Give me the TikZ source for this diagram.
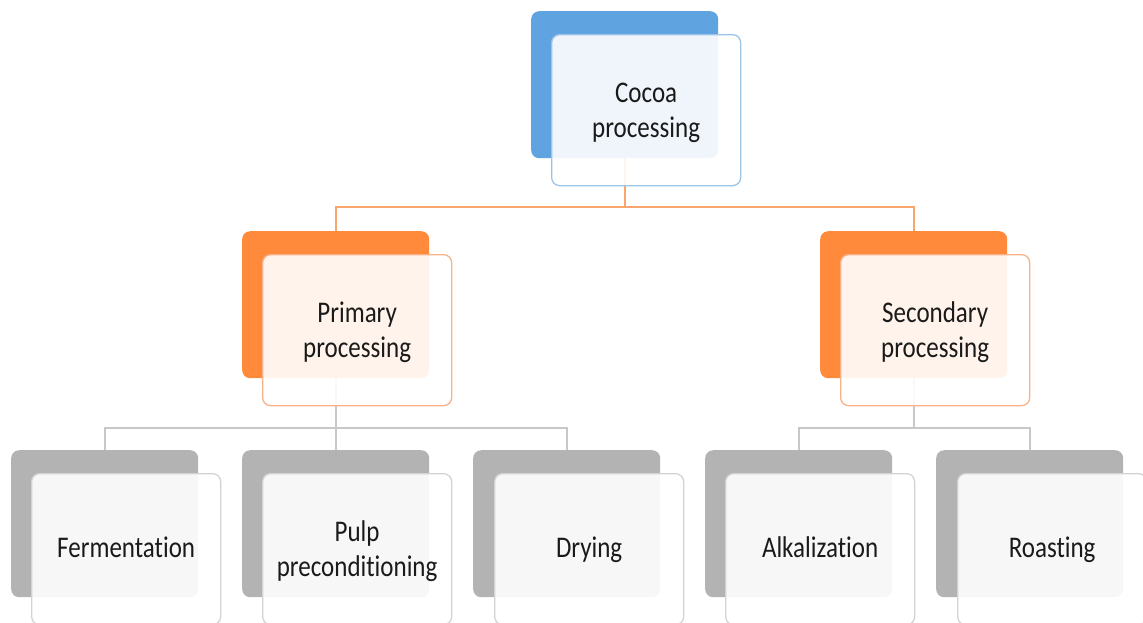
\documentclass[tikz,border=0pt]{standalone}
\usepackage{fontspec}
\setmainfont{Carlito}[Ligatures={NoCommon}]
\usetikzlibrary{backgrounds}
\definecolor{bblue}{HTML}{5FA3E0}
\definecolor{fblue}{HTML}{9DC3E6}
\definecolor{borange}{HTML}{FF8A3B}
\definecolor{forange}{HTML}{F9B287}
\definecolor{lorange}{HTML}{F8A56E}
\definecolor{bgray}{HTML}{B3B3B3}
\definecolor{fgray}{HTML}{D3D3D3}
\definecolor{lgray}{HTML}{C8C8C8}
\definecolor{txt}{HTML}{1A1A1A}
\newcommand\lbl[1]{\scalebox{1}[1.2]{\begin{tabular}{@{}c@{}}#1\end{tabular}}}
\begin{document}
\begin{tikzpicture}[x=1pt,y=-1pt,
  backbox/.style={rectangle, rounded corners=8pt, minimum width=187pt, minimum height=147pt, inner sep=0pt, anchor=north west, fill=#1},
  frontbox/.style={rectangle, rounded corners=8pt, minimum width=189pt, minimum height=151pt, inner sep=0pt, anchor=north west, fill=white, fill opacity=0.9, draw=#1, draw opacity=1, line width=1.3pt},
  boxtext/.style={inner sep=0pt, font=\fontsize{25}{29}\selectfont, text=txt},
  oline/.style={draw=lorange, line width=2pt},
  gline/.style={draw=lgray, line width=1.6pt}]
\useasboundingbox (0,0) rectangle (1143,622);
\coordinate (h1) at (0,207);
\coordinate (h2) at (0,428);
% top
\node[backbox=bblue] (cb) at (531,11) {};
\node[frontbox=fblue] (cf) at (551,34) {};
\node[boxtext] (ct) at ([yshift=-3pt]cf.center) {\lbl{Cocoa\\processing}};
% middle
\node[backbox=borange] (pb) at (242,231) {};
\node[frontbox=forange] (pf) at (262,254) {};
\node[boxtext] (pt) at ([yshift=-3pt]pf.center) {\lbl{Primary\\processing}};
\node[backbox=borange] (sb) at (820,231) {};
\node[frontbox=forange] (sf) at (840,254) {};
\node[boxtext] (st) at ([yshift=-3pt]sf.center) {\lbl{Secondary\\processing}};
% bottom
\node[backbox=bgray] (fb) at (11,450) {};
\node[frontbox=fgray] (ff) at (31,473) {};
\node[boxtext] (ft) at ([yshift=-1pt]ff.center) {\lbl{Fermentation}};
\node[backbox=bgray] (ub) at (242,450) {};
\node[frontbox=fgray] (uf) at (262,473) {};
\node[boxtext] (ut) at ([yshift=-3pt]uf.center) {\lbl{Pulp\\preconditioning}};
\node[backbox=bgray] (db) at (473,450) {};
\node[frontbox=fgray] (df) at (494,473) {};
\node[boxtext] (dt) at ([yshift=-1pt]df.center) {\lbl{Drying}};
\node[backbox=bgray] (ab) at (705,450) {};
\node[frontbox=fgray] (af) at (725,473) {};
\node[boxtext] (at) at ([yshift=-1pt]af.center) {\lbl{Alkalization}};
\node[backbox=bgray] (rb) at (936,450) {};
\node[frontbox=fgray] (rf) at (957,473) {};
\node[boxtext] (rt) at ([yshift=-1pt]rf.center) {\lbl{Roasting}};
\begin{pgfonlayer}{background}
\draw[oline] (cb.south) -- (cb.south |- h1);
\draw[oline] (pb.north) |- (cb.south |- h1) -| (sb.north);
\draw[gline] (pb.south) -- (ub.north);
\draw[gline] (fb.north) |- (pb.south |- h2) -| (db.north);
\draw[gline] (sb.south) -- (sb.south |- h2);
\draw[gline] (ab.north) |- (sb.south |- h2) -| (rb.north);
\end{pgfonlayer}
\end{tikzpicture}
\end{document}
